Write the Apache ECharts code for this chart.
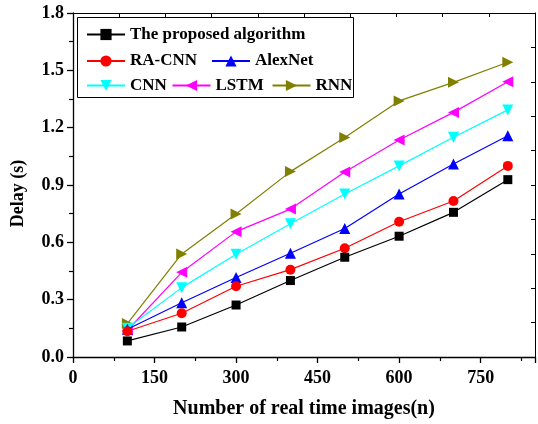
<!DOCTYPE html>
<html>
<head>
<meta charset="utf-8">
<script src="https://cdn.jsdelivr.net/npm/echarts@6/dist/echarts.min.js"></script>
<style>html,body{margin:0;padding:0;background:#fff}#c{width:538px;height:424px}</style>
</head>
<body>
<div id="c"></div>
<script>
const xValues = [100, 200, 300, 400, 500, 600, 700, 800];
const seriesNames = ['The proposed algorithm', 'RA-CNN', 'AlexNet', 'CNN', 'LSTM', 'RNN'];
const proposed = [0.084, 0.157, 0.272, 0.400, 0.522, 0.632, 0.757, 0.928];
const raCnn   = [0.135, 0.229, 0.370, 0.457, 0.569, 0.708, 0.816, 1.000];
const alexNet = [0.145, 0.284, 0.416, 0.543, 0.672, 0.853, 1.010, 1.158];
const cnn     = [0.150, 0.363, 0.538, 0.697, 0.853, 1.000, 1.150, 1.293];
const lstm    = [0.140, 0.443, 0.656, 0.774, 0.968, 1.135, 1.280, 1.440];
const rnn     = [0.175, 0.539, 0.748, 0.970, 1.148, 1.340, 1.437, 1.542];
const xTicksMain = [0, 150, 300, 450, 600, 750];
const yTicksMain = [0.0, 0.3, 0.6, 0.9, 1.2, 1.5, 1.8];

const FONT = 'Liberation Serif';
const colors = ['#000000', '#ff0000', '#0000ff', '#00ffff', '#ff00ff', '#808000'];
const symbols = ['rect', 'circle', 'triangle',
  'path://M0,0 L10,0 L5,9 Z',
  'path://M9,0 L9,10 L0,5 Z',
  'path://M0,0 L9,5 L0,10 Z'];
const sizes = [9, 10, 11, 11, 11, 11];
const allData = [proposed, raCnn, alexNet, cnn, lstm, rnn];

const chart = echarts.init(document.getElementById('c'), null, {renderer: 'canvas'});

const series = seriesNames.map((n, i) => ({
  name: n, type: 'line',
  data: xValues.map((x, j) => [x, allData[i][j]]),
  symbol: symbols[i], symbolSize: sizes[i],
  itemStyle: {color: colors[i]},
  lineStyle: {color: colors[i], width: 1.2},
  z: 10 - i
})).reverse();

const legendPos = [
  [86, 26], [86, 52.5], [211, 52.5], [86, 77], [171.5, 77], [271.5, 77]
];
const legends = seriesNames.map((n, i) => ({
  data: [n], left: legendPos[i][0], top: legendPos[i][1], padding: 0,
  itemWidth: 38, itemHeight: 14, selectedMode: false, orient: 'horizontal',
  textStyle: {fontFamily: FONT, fontWeight: 'bold', fontSize: 17, color: '#000', padding: [0,0,0,0]}
}));

const labelStyle = {fontFamily: FONT, fontWeight: 'bold', fontSize: 18, color: '#000'};

chart.setOption({
  animation: false,
  backgroundColor: '#fff',
  grid: {left: 73, top: 13, right: 1.5, bottom: 67, containLabel: false},
  legend: legends,
  xAxis: [{
    type: 'value', min: 0, max: 850, interval: 150, position: 'bottom',
    name: 'Number of real time images(n)', nameLocation: 'middle', nameGap: 42,
    nameTextStyle: {fontFamily: FONT, fontWeight: 'bold', fontSize: 20, color: '#000'},
    axisLine: {show: true, onZero: false, lineStyle: {color: '#000', width: 1.3}},
    axisTick: {show: true, inside: false, length: 6, lineStyle: {color: '#000', width: 1.3}},
    minorTick: {show: true, splitNumber: 2, length: 4, lineStyle: {color: '#000', width: 1.2}},
    axisLabel: Object.assign({margin: 12, formatter: v => xTicksMain.includes(v) ? String(v) : ''}, labelStyle),
    splitLine: {show: false}
  }, {
    type: 'value', min: 0, max: 850, interval: 85, position: 'top',
    axisLine: {show: true, onZero: false, lineStyle: {color: '#000', width: 1}},
    axisTick: {show: true, inside: true, length: 4, lineStyle: {color: '#000', width: 1}},
    axisLabel: {show: false}, splitLine: {show: false}
  }],
  yAxis: [{
    type: 'value', min: 0, max: 1.8, interval: 0.3, position: 'left',
    axisLine: {show: true, onZero: false, lineStyle: {color: '#000', width: 1.3}},
    axisTick: {show: true, inside: false, length: 6, lineStyle: {color: '#000', width: 1.3}},
    minorTick: {show: true, splitNumber: 2, length: 4, lineStyle: {color: '#000', width: 1.2}},
    axisLabel: Object.assign({margin: 9, formatter: v => {
      const t = yTicksMain.find(k => Math.abs(k - v) < 1e-6);
      return t === undefined ? '' : t.toFixed(1);
    }}, labelStyle),
    splitLine: {show: false}
  }, {
    type: 'value', min: 0, max: 1.8, interval: 0.18, position: 'right',
    axisLine: {show: true, onZero: false, lineStyle: {color: '#000', width: 1}},
    axisTick: {show: true, inside: true, length: 4, lineStyle: {color: '#000', width: 1}},
    axisLabel: {show: false}, splitLine: {show: false}
  }],
  graphic: [{
    type: 'rect', left: 77, top: 17, z: 0,
    shape: {width: 276, height: 80},
    style: {fill: '#fff', stroke: '#000', lineWidth: 1}
  }, {
    type: 'text', x: 18, y: 193.5, rotation: Math.PI / 2,
    style: {text: 'Delay (s)', fontFamily: FONT, fontWeight: 'bold', fontSize: 18, fill: '#000',
      align: 'center', verticalAlign: 'middle'}
  }],
  series: series
});
</script>
</body>
</html>
